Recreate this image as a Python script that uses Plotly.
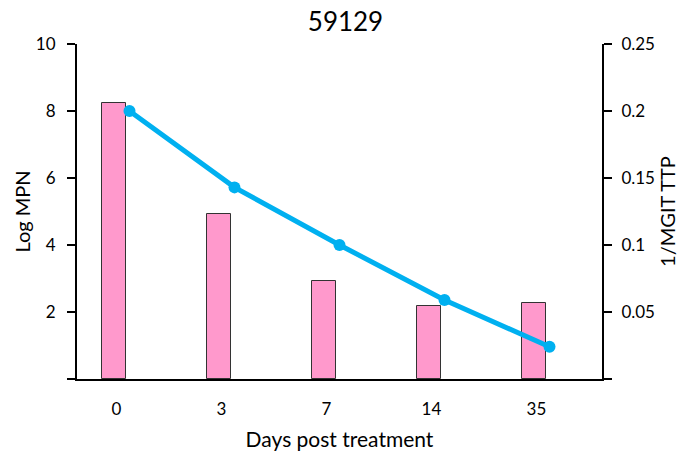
import plotly.graph_objects as go

# Sampling days and measurements
days = ["0", "3", "7", "14", "35"]
log_mpn = [8.25, 4.93, 2.93, 2.18, 2.27]
mgit_ttp_inv = [0.200, 0.143, 0.100, 0.059, 0.024]

left_ticks = [0, 2, 4, 6, 8, 10]
left_labels = ["", "2", "4", "6", "8", "10"]
right_ticks = [0, 0.05, 0.1, 0.15, 0.2, 0.25]
right_labels = ["", "0.05", "0.1", "0.15", "0.2", "0.25"]

FONT = "Lato"
idx = list(range(len(days)))
bar_shift = -0.148
label_shift = -0.125

fig = go.Figure()
fig.add_trace(go.Bar(
    x=[i + bar_shift for i in idx], y=log_mpn, width=0.23,
    marker=dict(color="#FF99CC", line=dict(color="#333333", width=1)),
    yaxis="y", showlegend=False,
))
fig.add_trace(go.Scatter(
    x=idx, y=mgit_ttp_inv, mode="lines+markers",
    line=dict(color="#00B0F0", width=5),
    marker=dict(color="#00B0F0", size=12),
    yaxis="y2", showlegend=False, cliponaxis=False,
))

fig.update_layout(
    width=691, height=454,
    margin=dict(l=77, r=89, t=44, b=75, autoexpand=False),
    plot_bgcolor="white", paper_bgcolor="white",
    font=dict(family=FONT, color="#000000", size=17),
    title=dict(text="59129", x=0.5, xanchor="center", y=0.952, yanchor="middle",
               font=dict(family=FONT, size=26, color="#000000")),
    xaxis=dict(
        range=[-0.5, 4.5], showgrid=False, zeroline=False, automargin=False,
        tickmode="array", tickvals=[i + label_shift for i in idx], ticktext=days,
        ticks="", showline=True, linecolor="black", linewidth=2,
        tickfont=dict(size=17), ticklabelstandoff=14,
        title=dict(text="Days post treatment", font=dict(size=21), standoff=14),
    ),
    yaxis=dict(
        range=[0, 10], showgrid=False, zeroline=False, automargin=False,
        tickmode="array", tickvals=left_ticks, ticktext=left_labels,
        ticks="outside", ticklen=8, tickwidth=2, tickcolor="black",
        showline=True, linecolor="black", linewidth=2,
        tickfont=dict(size=17), ticklabelstandoff=8,
        title=dict(text="Log MPN", font=dict(size=20), standoff=0),
    ),
    yaxis2=dict(
        range=[0, 0.25], overlaying="y", side="right", showgrid=False, zeroline=False,
        automargin=False,
        tickmode="array", tickvals=right_ticks, ticktext=right_labels,
        ticks="outside", ticklen=8, tickwidth=2, tickcolor="black",
        showline=True, linecolor="black", linewidth=2,
        tickfont=dict(size=17), ticklabelstandoff=6,
        title=dict(text="1/MGIT TTP", font=dict(size=20), standoff=0),
    ),
    bargap=0,
)

fig.write_html("out.html")
